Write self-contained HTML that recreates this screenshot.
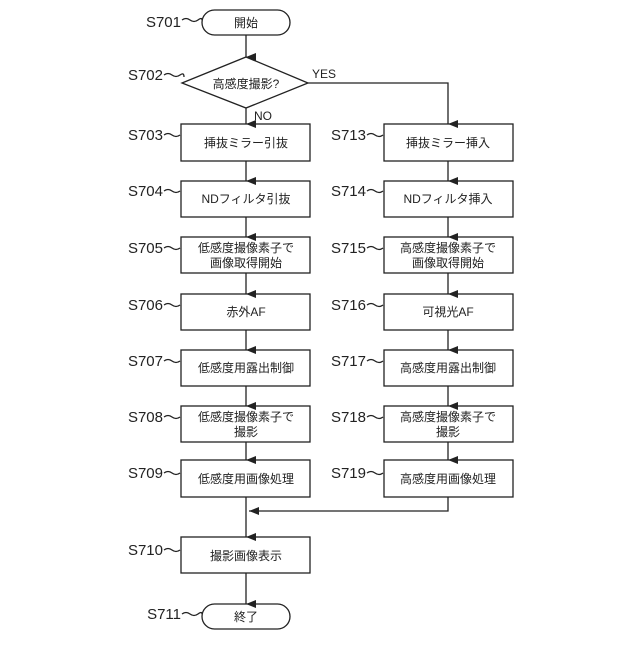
<!DOCTYPE html>
<html><head><meta charset="utf-8"><style>body{margin:0;background:#fff}</style></head><body>
<svg width="640" height="640" xmlns="http://www.w3.org/2000/svg" font-family="Liberation Sans, Noto Sans CJK JP, sans-serif">
<defs><marker id="a" markerWidth="8" markerHeight="10" refX="4" refY="10" orient="auto" markerUnits="userSpaceOnUse"><path d="M0,0 L8,0 L4,10 Z" fill="#222"/></marker>
<marker id="l" markerWidth="10" markerHeight="8" refX="0" refY="4" orient="0" markerUnits="userSpaceOnUse"><path d="M10,0 L10,8 L0,4 Z" fill="#222"/></marker></defs>
<g stroke="#222" stroke-width="1.3" fill="#fff">
<rect x="202" y="10" width="88" height="25" rx="12.5"/>
<polygon points="182,83 246,57 308,83 246,108"/>
<rect x="202" y="604" width="88" height="25" rx="12.5"/>
<rect x="181" y="124" width="129" height="37"/><rect x="181" y="181" width="129" height="36"/><rect x="181" y="237" width="129" height="36"/><rect x="181" y="294" width="129" height="36"/><rect x="181" y="350" width="129" height="36"/><rect x="181" y="406" width="129" height="36"/><rect x="181" y="460" width="129" height="37"/><rect x="181" y="537" width="129" height="36"/>
<rect x="384" y="124" width="129" height="37"/><rect x="384" y="181" width="129" height="36"/><rect x="384" y="237" width="129" height="36"/><rect x="384" y="294" width="129" height="36"/><rect x="384" y="350" width="129" height="36"/><rect x="384" y="406" width="129" height="36"/><rect x="384" y="460" width="129" height="37"/>
</g>
<g stroke="#222" stroke-width="1.3" fill="none">
<line x1="246" y1="35" x2="246" y2="57" marker-end="url(#a)"/>
<line x1="246" y1="108" x2="246" y2="124" marker-end="url(#a)"/>
<polyline points="308,83 448,83 448,124" marker-end="url(#a)"/>
<line x1="246" y1="161" x2="246" y2="181" marker-end="url(#a)"/><line x1="246" y1="217" x2="246" y2="237" marker-end="url(#a)"/><line x1="246" y1="273" x2="246" y2="294" marker-end="url(#a)"/><line x1="246" y1="330" x2="246" y2="350" marker-end="url(#a)"/><line x1="246" y1="386" x2="246" y2="406" marker-end="url(#a)"/><line x1="246" y1="442" x2="246" y2="460" marker-end="url(#a)"/>
<line x1="448" y1="161" x2="448" y2="181" marker-end="url(#a)"/><line x1="448" y1="217" x2="448" y2="237" marker-end="url(#a)"/><line x1="448" y1="273" x2="448" y2="294" marker-end="url(#a)"/><line x1="448" y1="330" x2="448" y2="350" marker-end="url(#a)"/><line x1="448" y1="386" x2="448" y2="406" marker-end="url(#a)"/><line x1="448" y1="442" x2="448" y2="460" marker-end="url(#a)"/>
<line x1="246" y1="497" x2="246" y2="537" marker-end="url(#a)"/>
<polyline points="448,497 448,511 249,511" marker-end="url(#l)"/>
<line x1="246" y1="573" x2="246" y2="604" marker-end="url(#a)"/>
<path d="M182,20 q4,-3 8,0 t8,0 4,0"/><path d="M164,75 q4,-3 8,0 t8,0 t4,2"/>
<path d="M164,135 q4,-3 8,0 t8,0"/><path d="M164,191 q4,-3 8,0 t8,0"/><path d="M164,248 q4,-3 8,0 t8,0"/><path d="M164,305 q4,-3 8,0 t8,0"/><path d="M164,361 q4,-3 8,0 t8,0"/><path d="M164,417 q4,-3 8,0 t8,0"/><path d="M164,473 q4,-3 8,0 t8,0"/><path d="M164,550 q4,-3 8,0 t8,0"/><path d="M182,614 q4,-3 8,0 t8,0 4,0"/>
<path d="M367,135 q4,-3 8,0 t8,0"/><path d="M367,191 q4,-3 8,0 t8,0"/><path d="M367,248 q4,-3 8,0 t8,0"/><path d="M367,305 q4,-3 8,0 t8,0"/><path d="M367,361 q4,-3 8,0 t8,0"/><path d="M367,417 q4,-3 8,0 t8,0"/><path d="M367,473 q4,-3 8,0 t8,0"/>
</g>
<g font-size="15" fill="#222" text-anchor="end">
<text x="181" y="27">S701</text><text x="163" y="80">S702</text><text x="163" y="140">S703</text><text x="163" y="196">S704</text><text x="163" y="253">S705</text><text x="163" y="310">S706</text><text x="163" y="366">S707</text><text x="163" y="422">S708</text><text x="163" y="478">S709</text><text x="163" y="555">S710</text><text x="181" y="619">S711</text>
<text x="366" y="140">S713</text><text x="366" y="196">S714</text><text x="366" y="253">S715</text><text x="366" y="310">S716</text><text x="366" y="366">S717</text><text x="366" y="422">S718</text><text x="366" y="478">S719</text>
</g>
<g font-size="12" fill="#222">
<text x="312" y="78">YES</text><text x="254" y="120">NO</text>
</g>
<g font-size="12" fill="#222" text-anchor="middle">
<text x="246" y="27">開始</text><text x="246" y="88">高感度撮影?</text><text x="246" y="621">終了</text>
<text x="246" y="147">挿抜ミラー引抜</text><text x="246" y="203">NDフィルタ引抜</text><text x="246" y="252">低感度撮像素子で</text><text x="246" y="267">画像取得開始</text><text x="246" y="316">赤外AF</text><text x="246" y="372">低感度用露出制御</text><text x="246" y="421">低感度撮像素子で</text><text x="246" y="436">撮影</text><text x="246" y="483">低感度用画像処理</text><text x="246" y="560">撮影画像表示</text>
<text x="448" y="147">挿抜ミラー挿入</text><text x="448" y="203">NDフィルタ挿入</text><text x="448" y="252">高感度撮像素子で</text><text x="448" y="267">画像取得開始</text><text x="448" y="316">可視光AF</text><text x="448" y="372">高感度用露出制御</text><text x="448" y="421">高感度撮像素子で</text><text x="448" y="436">撮影</text><text x="448" y="483">高感度用画像処理</text>
</g>
</svg>
</body></html>
